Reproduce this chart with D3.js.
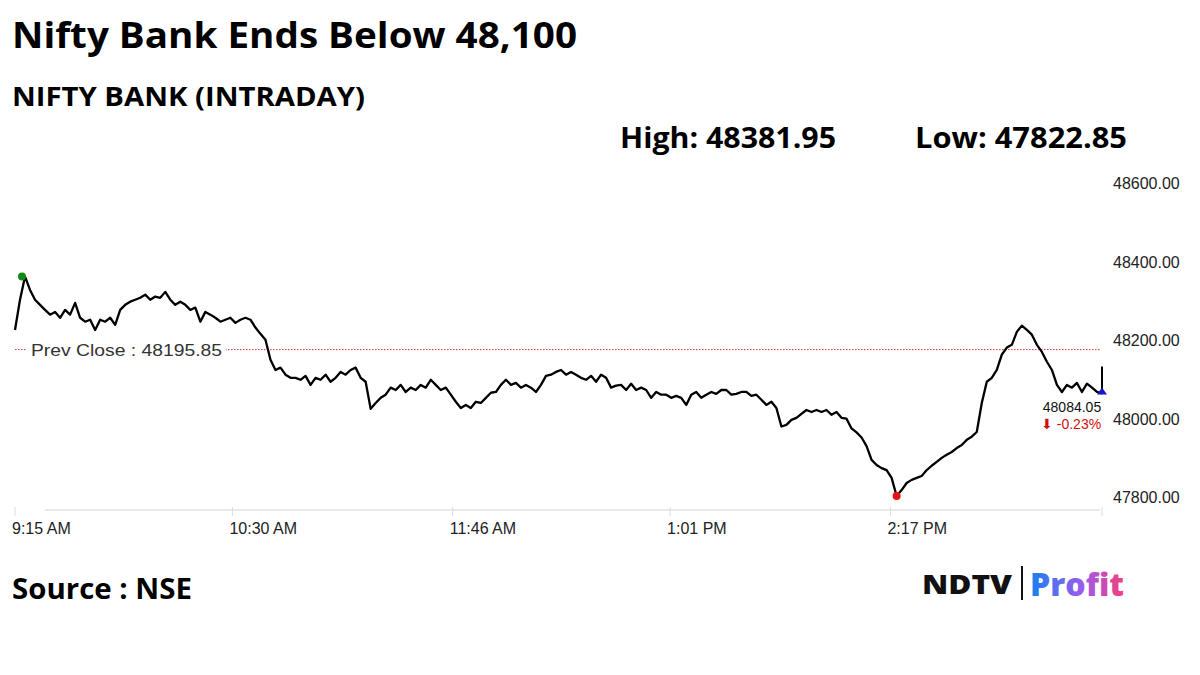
<!DOCTYPE html>
<html>
<head>
<meta charset="utf-8">
<script src="https://cdn.jsdelivr.net/npm/d3@7"></script>
<style>
  body { margin: 0; background: #fff; }
  svg { display: block; }
</style>
</head>
<body>
<svg id="chart" width="1200" height="675"></svg>
<script>
// intraday closes at roughly even intervals from 9:15 to 3:30
const prices = [
  48246, 48323, 48382, 48348, 48323, 48310, 48297, 48285, 48292, 48277,
  48297, 48285, 48315, 48277, 48267, 48272, 48246, 48272, 48267, 48277,
  48259, 48297, 48310, 48318, 48323, 48328, 48336, 48323, 48331, 48328,
  48343, 48323, 48310, 48318, 48310, 48297, 48303, 48267, 48292, 48285,
  48277, 48267, 48272, 48277, 48264, 48272, 48277, 48272, 48252, 48236,
  48221, 48170, 48144, 48150, 48132, 48124, 48124, 48119, 48129, 48106,
  48124, 48119, 48132, 48114, 48124, 48139, 48132, 48144, 48150, 48124,
  48114, 48045, 48060, 48073, 48081, 48099, 48093, 48106, 48088, 48099,
  48093, 48106, 48099, 48119, 48106, 48093, 48099, 48081, 48063, 48047,
  48055, 48047, 48063, 48060, 48073, 48086, 48088, 48106, 48119, 48106,
  48111, 48099, 48106, 48099, 48088, 48106, 48129, 48132, 48139, 48144,
  48132, 48139, 48132, 48124, 48119, 48129, 48114, 48132, 48124, 48099,
  48104, 48106, 48093, 48109, 48093, 48099, 48093, 48073, 48088, 48081,
  48081, 48073, 48078, 48073, 48055, 48081, 48088, 48073, 48081, 48088,
  48083, 48093, 48093, 48081, 48083, 48088, 48088, 48078, 48081, 48068,
  48055, 48063, 48047, 48000, 48004, 48017, 48022, 48032, 48042, 48037,
  48042, 48037, 48042, 48030, 48037, 48022, 48020, 47995, 47985, 47972,
  47950, 47915, 47902, 47894, 47889, 47869, 47822.85, 47838, 47856, 47864,
  47869, 47874, 47889, 47900, 47910, 47920, 47928, 47935, 47945, 47953,
  47966, 47974, 47986, 48060, 48114, 48124, 48144, 48183, 48201, 48208,
  48241, 48257, 48246, 48234, 48208, 48190, 48165, 48144, 48106, 48088,
  48106, 48099, 48111, 48088, 48109, 48099, 48088, 48084.05
];
const yTicks = [47800, 48000, 48200, 48400, 48600];
const xTickLabels = ['9:15 AM', '10:30 AM', '11:46 AM', '1:01 PM', '2:17 PM'];
const xTickMinutes = [0, 75, 151, 226, 302];
const prevClose = 48195.85;
const high = 48381.95, low = 47822.85;
const lastChange = '-0.23%';

const session = 375; // minutes, 9:15 to 3:30
const data = prices.map((p, i) => ({ t: i * session / (prices.length - 1), p }));

const svg = d3.select('#chart');
const x = d3.scaleLinear().domain([0, session]).range([15, 1102]);
const y = d3.scaleLinear().domain([47800, 48600]).range([505, 191]);
const font = '"Liberation Sans", Arial, sans-serif';
const bold = '"Open Sans", sans-serif';

// headings
svg.append('text').attr('x', 12).attr('y', 48).attr('font-family', bold).attr('font-weight', 700)
  .attr('font-size', 35).attr('textLength', 565).attr('lengthAdjust', 'spacingAndGlyphs')
  .text('Nifty Bank Ends Below 48,100');
svg.append('text').attr('x', 12).attr('y', 106).attr('font-family', bold).attr('font-weight', 700)
  .attr('font-size', 26).attr('textLength', 353).attr('lengthAdjust', 'spacingAndGlyphs')
  .text('NIFTY BANK (INTRADAY)');
svg.append('text').attr('x', 620).attr('y', 148).attr('font-family', bold).attr('font-weight', 700)
  .attr('font-size', 28).attr('textLength', 216).attr('lengthAdjust', 'spacingAndGlyphs')
  .text(`High: ${high.toFixed(2)}`);
svg.append('text').attr('x', 915).attr('y', 148).attr('font-family', bold).attr('font-weight', 700)
  .attr('font-size', 28).attr('textLength', 212).attr('lengthAdjust', 'spacingAndGlyphs')
  .text(`Low: ${low.toFixed(2)}`);
svg.append('text').attr('x', 12).attr('y', 599).attr('font-family', bold).attr('font-weight', 700)
  .attr('font-size', 29).attr('textLength', 180).attr('lengthAdjust', 'spacingAndGlyphs')
  .text('Source : NSE');

// y axis labels
svg.append('g').selectAll('text').data(yTicks).join('text')
  .attr('x', 1113).attr('y', d => y(d) - 2)
  .attr('font-family', font).attr('font-size', 16).attr('fill', '#222')
  .text(d => d.toFixed(2));

// x axis
svg.append('line').attr('x1', 45).attr('x2', 1100).attr('y1', 510).attr('y2', 510)
  .attr('stroke', '#e2e2e2').attr('stroke-width', 1.5);
const xt = svg.append('g').selectAll('g').data(xTickMinutes).join('g');
xt.append('line').attr('x1', d => x(d)).attr('x2', d => x(d)).attr('y1', 507).attr('y2', 516)
  .attr('stroke', '#ddd');
xt.append('text').attr('x', d => x(d) - 3).attr('y', 534)
  .attr('font-family', font).attr('font-size', 16).attr('fill', '#222')
  .text((d, i) => xTickLabels[i]);
svg.append('line').attr('x1', 1102).attr('x2', 1102).attr('y1', 507).attr('y2', 516).attr('stroke', '#ddd');

// prev close
svg.append('line').attr('x1', 15).attr('x2', 1100).attr('y1', y(prevClose)).attr('y2', y(prevClose))
  .attr('stroke', '#d33').attr('stroke-width', 1).attr('stroke-dasharray', '1.5,1.5');
svg.append('rect').attr('x', 26).attr('y', y(prevClose) - 10).attr('width', 200).attr('height', 20).attr('fill', '#fff');
svg.append('text').attr('x', 31).attr('y', y(prevClose) + 6)
  .attr('font-family', font).attr('font-size', 16).attr('fill', '#333')
  .attr('textLength', 191).attr('lengthAdjust', 'spacingAndGlyphs')
  .text(`Prev Close : ${prevClose.toFixed(2)}`);

// price line
svg.append('path').datum(data)
  .attr('d', d3.line().x(d => x(d.t)).y(d => y(d.p)))
  .attr('fill', 'none').attr('stroke', '#000').attr('stroke-width', 2.3).attr('stroke-linejoin', 'round');

const hi = data.reduce((a, b) => b.p > a.p ? b : a);
const lo = data.reduce((a, b) => b.p < a.p ? b : a);
svg.append('circle').attr('cx', x(hi.t) - 3).attr('cy', y(hi.p)).attr('r', 4).attr('fill', '#138a13');
svg.append('circle').attr('cx', x(lo.t)).attr('cy', y(lo.p)).attr('r', 4).attr('fill', '#e81414');

// last price marker
const last = data[data.length - 1];
svg.append('line').attr('x1', x(last.t)).attr('x2', x(last.t)).attr('y1', y(last.p) - 27).attr('y2', y(last.p))
  .attr('stroke', '#000').attr('stroke-width', 2);
svg.append('path')
  .attr('d', `M${x(last.t) - 5},${y(last.p) + 1}L${x(last.t)},${y(last.p) - 6}L${x(last.t) + 5},${y(last.p) + 1}Z`)
  .attr('fill', '#1414c8');
svg.append('text').attr('x', x(last.t) - 30).attr('y', y(last.p) + 18).attr('text-anchor', 'middle')
  .attr('font-family', font).attr('font-size', 14).attr('fill', '#111')
  .text(last.p.toFixed(2));
svg.append('text').attr('x', x(last.t) - 31).attr('y', y(last.p) + 35).attr('text-anchor', 'middle')
  .attr('font-family', font).attr('font-size', 14).attr('fill', '#d01010')
  .text(`\u2b07 ${lastChange}`);

// logo
svg.append('text').attr('x', 922).attr('y', 594).attr('font-family', bold).attr('font-weight', 800)
  .attr('font-size', 26).attr('textLength', 90).attr('lengthAdjust', 'spacingAndGlyphs').attr('fill', '#111')
  .text('NDTV');
svg.append('line').attr('x1', 1022).attr('x2', 1022).attr('y1', 566).attr('y2', 600).attr('stroke', '#111').attr('stroke-width', 2);
const grad = svg.append('defs').append('linearGradient').attr('id', 'pg');
grad.append('stop').attr('offset', '0%').attr('stop-color', '#1a7ff0');
grad.append('stop').attr('offset', '55%').attr('stop-color', '#9a5cf0');
grad.append('stop').attr('offset', '100%').attr('stop-color', '#f43f7a');
svg.append('text').attr('x', 1030).attr('y', 596).attr('font-family', bold).attr('font-weight', 800)
  .attr('font-size', 32).attr('textLength', 94).attr('lengthAdjust', 'spacingAndGlyphs').attr('fill', 'url(#pg)')
  .text('Profit');
</script>
</body>
</html>
